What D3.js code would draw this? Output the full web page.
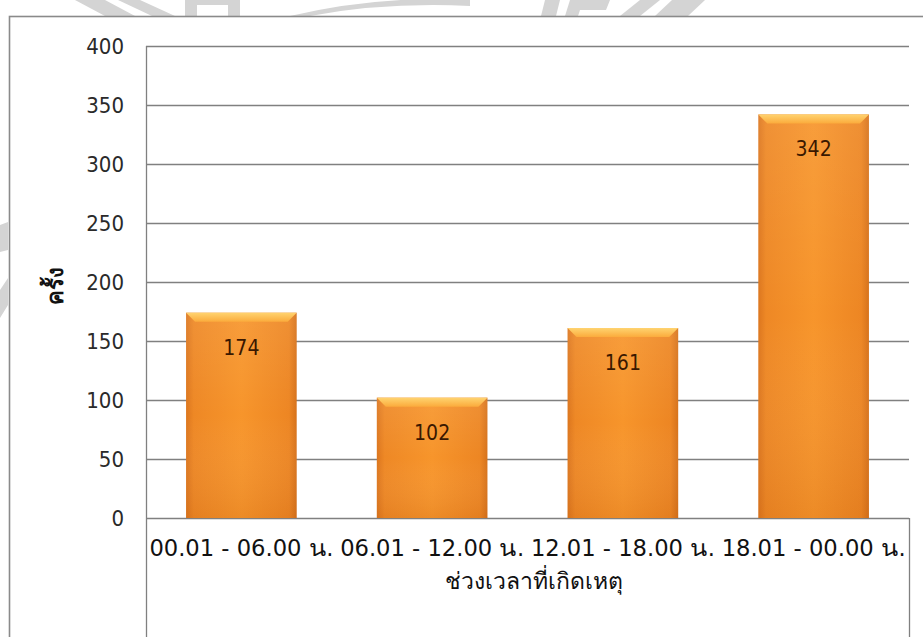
<!DOCTYPE html>
<html>
<head>
<meta charset="utf-8">
<script src="https://cdn.jsdelivr.net/npm/d3@7/dist/d3.min.js"></script>
<style>
  html, body { margin: 0; padding: 0; background: #ffffff; }
  svg { display: block; }
</style>
</head>
<body>
<svg id="chart" width="923" height="637"></svg>
<script>
// Accidents by time of day (ช่วงเวลาที่เกิดเหตุ)
const categories = ["00.01 - 06.00 น.", "06.01 - 12.00 น.", "12.01 - 18.00 น.", "18.01 - 00.00 น."];
const counts = [174, 102, 161, 342];
const yTicks = [0, 50, 100, 150, 200, 250, 300, 350, 400];
const yTitle = "ครั้ง";
const xTitle = "ช่วงเวลาที่เกิดเหตุ";

const W = 923, H = 637;
const plot = { left: 146, right: 909, top: 46, bottom: 518 };
const FONT = "'DejaVu Sans Condensed', 'DejaVu Sans', sans-serif";
const svg = d3.select("#chart");
const defs = svg.append("defs");

// faint emblem marks behind the chart frame
const wm = svg.append("g").attr("fill", "#d4d4d4").attr("stroke", "none");
wm.append("path").attr("d", "M75,0 L105,0 L135,16 L105,16 Z");
wm.append("path").attr("d", "M118,0 L140,0 L175,16 L152,16 Z");
wm.append("path").attr("d", "M185,0 L240,0 L240,16 L228,16 L228,5 L197,5 L197,16 L185,16 Z");
wm.append("path").attr("d", "M290,16 Q380,-5 470,0 L470,6 Q385,2 310,16 Z");
wm.append("path").attr("d", "M545,0 L560,0 L556,16 L541,16 Z M570,0 L610,0 L606,10 L580,10 L578,16 L565,16 Z");
wm.append("path").attr("d", "M640,0 L660,0 L640,16 L620,16 Z M672,0 L705,0 L688,16 L655,16 Z");
wm.append("path").attr("d", "M0,225 L8,222 L8,250 L0,252 Z M0,290 L8,278 L8,305 L0,318 Z");

// chart frame
svg.append("rect")
  .attr("x", 9.5).attr("y", 16.5)
  .attr("width", W + 20).attr("height", H)
  .attr("fill", "#ffffff")
  .attr("stroke", "#8a8a8a").attr("stroke-width", 1.6);

const x = d3.scaleBand().domain(categories).range([plot.left, plot.right]).paddingInner(0.42).paddingOuter(0.21);
const y = d3.scaleLinear().domain([0, 400]).range([plot.bottom, plot.top]);

// horizontal gridlines
svg.append("g")
  .selectAll("line").data(yTicks).join("line")
  .attr("x1", plot.left).attr("x2", plot.right)
  .attr("y1", d => Math.round(y(d)) + 0.5).attr("y2", d => Math.round(y(d)) + 0.5)
  .attr("stroke", "#808080").attr("stroke-width", 1.3);

// value axis
const yAxis = d3.axisLeft(y).tickValues(yTicks).tickSize(0).tickPadding(22);
const yg = svg.append("g").attr("transform", `translate(${plot.left},0)`).call(yAxis);
yg.select(".domain").remove();
yg.selectAll("text")
  .attr("font-family", FONT)
  .attr("font-size", 22).attr("fill", "#2a2a2a");
svg.append("line")
  .attr("x1", plot.left + 0.5).attr("x2", plot.left + 0.5)
  .attr("y1", plot.top).attr("y2", H)
  .attr("stroke", "#808080").attr("stroke-width", 1.3);
// category box
svg.append("line")
  .attr("x1", plot.right + 0.5).attr("x2", plot.right + 0.5)
  .attr("y1", plot.bottom).attr("y2", H)
  .attr("stroke", "#808080").attr("stroke-width", 1.3);

// bar gradients
const gBody = defs.append("linearGradient").attr("id", "body").attr("x1", 0).attr("x2", 1).attr("y1", 0).attr("y2", 0);
[[0, "#dc761e"], [0.07, "#ee8825"], [0.5, "#f7952b"], [0.93, "#ed8623"], [1, "#d6721b"]]
  .forEach(([o, c]) => gBody.append("stop").attr("offset", o).attr("stop-color", c));
const gShade = defs.append("linearGradient").attr("id", "shade").attr("x1", 0).attr("x2", 0).attr("y1", 0).attr("y2", 1);
[[0, "#ffffff", 0.08], [0.5, "#ffffff", 0], [1, "#a04000", 0.12]]
  .forEach(([o, c, a]) => gShade.append("stop").attr("offset", o).attr("stop-color", c).attr("stop-opacity", a));
const gTop = defs.append("linearGradient").attr("id", "bevel").attr("x1", 0).attr("x2", 0).attr("y1", 0).attr("y2", 1);
[[0, "#ffd470"], [1, "#fbab3c"]]
  .forEach(([o, c]) => gTop.append("stop").attr("offset", o).attr("stop-color", c));

const bars = svg.append("g").selectAll("g").data(categories).join("g");
bars.append("rect")
  .attr("x", d => x(d)).attr("width", x.bandwidth())
  .attr("y", (d, i) => y(counts[i])).attr("height", (d, i) => y(0) - y(counts[i]))
  .attr("fill", "url(#body)");
bars.append("rect")
  .attr("x", d => x(d)).attr("width", x.bandwidth())
  .attr("y", (d, i) => y(counts[i])).attr("height", (d, i) => y(0) - y(counts[i]))
  .attr("fill", "url(#shade)");
bars.append("path")
  .attr("d", (d, i) => {
    const x0 = x(d), x1 = x0 + x.bandwidth(), t = y(counts[i]), b = 9;
    return `M${x0},${t} L${x1},${t} L${x1 - b},${t + b} L${x0 + b},${t + b} Z`;
  })
  .attr("fill", "url(#bevel)");

// value labels
bars.append("text")
  .attr("x", d => x(d) + x.bandwidth() / 2)
  .attr("y", (d, i) => y(counts[i]) + 42)
  .attr("text-anchor", "middle")
  .attr("font-family", FONT)
  .attr("font-size", 21).attr("fill", "#3a1800")
  .text((d, i) => counts[i]);

// category labels
svg.append("g").selectAll("text").data(categories).join("text")
  .attr("x", d => x(d) + x.bandwidth() / 2)
  .attr("y", 556)
  .attr("text-anchor", "middle")
  .attr("font-family", FONT)
  .attr("font-size", 23).attr("fill", "#111")
  .attr("textLength", 184).attr("lengthAdjust", "spacingAndGlyphs")
  .text(d => d);

// axis titles
svg.append("text")
  .attr("x", (plot.left + plot.right) / 2 + 6).attr("y", 589)
  .attr("text-anchor", "middle")
  .attr("font-family", FONT)
  .attr("font-size", 23).attr("fill", "#111")
  .text(xTitle);
svg.append("text")
  .attr("transform", "translate(63,286) rotate(-90)")
  .attr("text-anchor", "middle")
  .attr("font-family", "'DejaVu Sans', sans-serif")
  .attr("font-weight", "bold")
  .attr("font-size", 22).attr("fill", "#111")
  .text(yTitle);
</script>
</body>
</html>
